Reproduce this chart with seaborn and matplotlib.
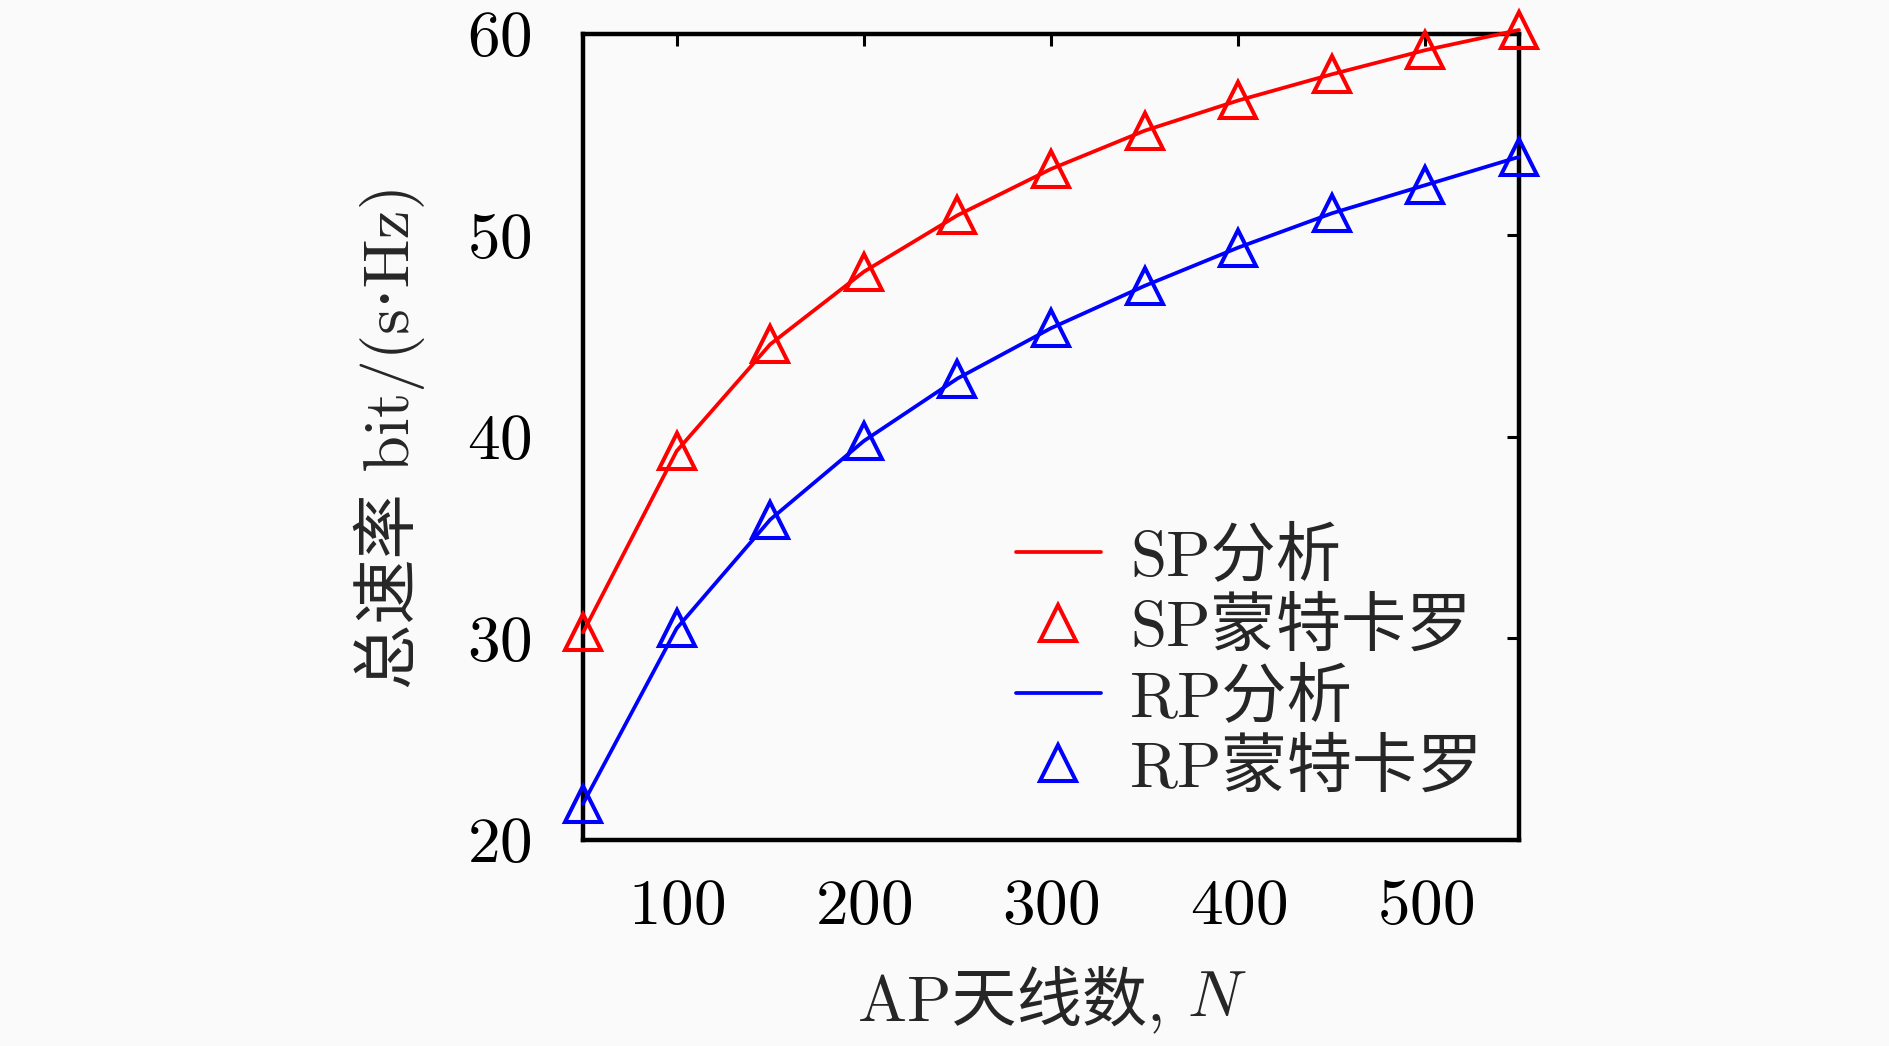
import numpy as np
import pandas as pd
import matplotlib
matplotlib.use("Agg")
import matplotlib.pyplot as plt
import seaborn as sns

# values
n_antennas = [50, 100, 150, 200, 250, 300, 350, 400, 450, 500, 550]
sp_rate = [30.3, 39.3, 44.6, 48.2, 51.0, 53.3, 55.2, 56.7, 58.0, 59.2, 60.2]
rp_rate = [21.8, 30.5, 35.9, 39.8, 42.9, 45.4, 47.5, 49.4, 51.1, 52.5, 53.9]
legend_labels = ["SP分析", "SP蒙特卡罗", "RP分析", "RP蒙特卡罗"]
x_ticks = [100, 200, 300, 400, 500]
y_ticks = [20, 30, 40, 50, 60]
x_label = "AP天线数, "
x_label_var = "N"
y_label = "总速率 bit/(s·Hz)"

sns.set_theme(style="white")
plt.rcParams["font.family"] = ["cmr10", "DejaVu Serif", "Noto Sans CJK SC"]
plt.rcParams["axes.unicode_minus"] = False
plt.rcParams["axes.formatter.use_mathtext"] = True

df = pd.DataFrame({"N": n_antennas, "SP": sp_rate, "RP": rp_rate})

bg = "#fafafa"
fig = plt.figure(figsize=(18.9, 10.46), dpi=100, facecolor=bg)
ax = fig.add_axes([0.3085, 0.197, 0.4952, 0.7705])
ax.set_facecolor(bg)

ms = 26
mew = 2.9
lw = 2.7
sns.lineplot(data=df, x="N", y="SP", ax=ax, color="red", lw=lw, label=legend_labels[0])
sns.lineplot(data=df, x="N", y="SP", ax=ax, color="red", ls="none", marker="^", ms=ms,
             mfc="none", mec="red", mew=mew, label=legend_labels[1])
sns.lineplot(data=df, x="N", y="RP", ax=ax, color="blue", lw=lw, label=legend_labels[2])
sns.lineplot(data=df, x="N", y="RP", ax=ax, color="blue", ls="none", marker="^", ms=ms,
             mfc="none", mec="blue", mew=mew, label=legend_labels[3])
for ln in ax.lines:
    ln.set_clip_on(False)

ax.set_xlim(50, 550)
ax.set_ylim(20, 60)
ax.set_xticks(x_ticks)
ax.set_yticks(y_ticks)
ax.tick_params(direction="in", length=8.5, width=2.2, top=True, right=True,
               labelsize=47, colors="black")
ax.tick_params(axis="x", pad=28)
ax.tick_params(axis="y", pad=37)
for sp in ax.spines.values():
    sp.set_linewidth(3.2)
    sp.set_color("black")
    sp.set_visible(True)
    sp.set_zorder(1)

ax.set_xlabel("")
ax.set_ylabel(y_label, fontsize=47, labelpad=30)

leg = ax.legend(loc="lower right", bbox_to_anchor=(0.99, 0.018), frameon=False,
                fontsize=47, handlelength=1.3, handletextpad=0.45,
                labelspacing=0.15, borderaxespad=0)

# x label: upright text plus italic N
t1 = fig.text(0.5, 0.044, x_label, fontsize=47, ha="left", va="center")
t2 = fig.text(0.5, 0.044, x_label_var, fontsize=47, ha="left", va="center",
              family="cmmi10")
fig.canvas.draw()
r = fig.canvas.get_renderer()
w1 = t1.get_window_extent(r).width / fig.bbox.width
w2 = t2.get_window_extent(r).width / fig.bbox.width
x0 = 0.555 - (w1 + w2) / 2
t1.set_x(x0)
t2.set_x(x0 + w1)

fig.savefig("out.png", dpi=100, facecolor=fig.get_facecolor())
